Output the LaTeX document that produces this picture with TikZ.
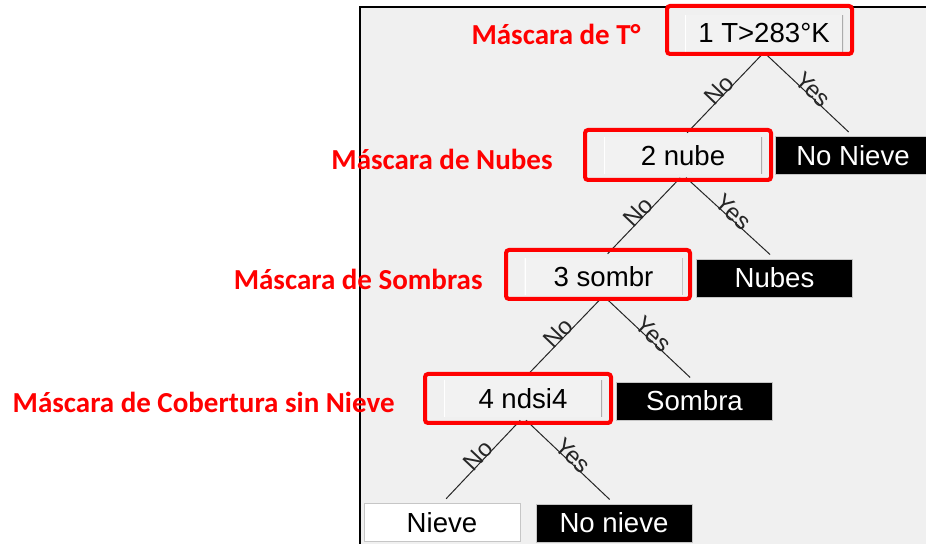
\documentclass[tikz,border=0pt]{standalone}
\usepackage{fontspec}
\newfontfamily\treefont{Liberation Sans}
\newfontfamily\maskfont{Carlito}
\usetikzlibrary{calc}
\definecolor{panelgray}{HTML}{F0F0F0}
\definecolor{btngray}{HTML}{F2F2F2}
\definecolor{maskred}{HTML}{FF0000}

\begin{document}
\begin{tikzpicture}[x=0.5pt, y=-0.5pt,
  testbox/.style={rectangle, fill=btngray, minimum width=79pt, minimum height=18.5pt,
    inner sep=0pt, font=\treefont\fontsize{13.8}{15}\selectfont,
    path picture={
      \draw[gray!65, line width=1pt] (path picture bounding box.north east) -- (path picture bounding box.south east);
      \draw[white, line width=1pt] (path picture bounding box.north west) -- (path picture bounding box.south west);}},
  leafbox/.style={rectangle, fill=black, text=white, draw=gray!45, minimum width=78pt,
    minimum height=19pt, inner sep=0pt, font=\treefont\fontsize{13.8}{15}\selectfont},
  snowbox/.style={leafbox, fill=white, text=black},
  branch/.style={black!85, line width=0.5pt, shorten <=2pt, shorten >=3pt},
  anslab/.style={sloped, above, inner sep=0pt, yshift=-1.2pt,
    font=\treefont\fontsize{12}{13}\selectfont},
  maskframe/.style={draw=maskred, line width=2pt, rounded corners=1.5pt},
  masklab/.style={text=maskred, anchor=base east, inner sep=0pt,
    font=\maskfont\bfseries\fontsize{14.5}{17}\selectfont},
]
\useasboundingbox (0,0) rectangle (926,544);

% panel
\fill[panelgray] (360,7.5) rectangle (950,560);
\draw[line width=1pt] (360,560) -- (360,7.5) -- (950,7.5);

% decision nodes
\node[testbox] (n1) at (764,33.5) {1 T>283°K};
\node[testbox] (n2) at (683,156) {2 nube};
\node[testbox] (n3) at (603.5,277) {3 sombr};
\node[testbox] (n4) at (523,398.5) {4 ndsi4};

% leaves
\node[leafbox] (nonieve) at (853,155.5) {No Nieve};
\node[leafbox] (nubes) at (774.5,278) {Nubes};
\node[leafbox] (sombra) at (694.5,401) {Sombra};
\node[snowbox] (nieve) at (442,522.5) {Nieve};
\node[leafbox] (nonieve4) at (614,523) {No nieve};

% branches
\draw[branch] (n1.south) -- node[anslab] {No} (n2.north);
\draw[branch] (n1.south) -- node[anslab] {Yes} (nonieve.north);
\draw[branch] (n2.south) -- node[anslab] {No} (n3.north);
\draw[branch] (n2.south) -- node[anslab] {Yes} (nubes.north);
\draw[branch] (n3.south) -- node[anslab] {No} (n4.north);
\draw[branch] (n3.south) -- node[anslab] {Yes} (sombra.north);
\draw[branch] (n4.south) -- node[anslab] {No} (nieve.north);
\draw[branch] (n4.south) -- node[anslab] {Yes} (nonieve4.north);

% red masks
\draw[maskframe] (667,6) rectangle (852,54);
\draw[maskframe] (585,130) rectangle (771,180);
\draw[maskframe] (506,250) rectangle (690,299);
\draw[maskframe] (425,374) rectangle (611,423);

\node[masklab] (lab1) at (641,45) {Máscara de T°};
\node[masklab] (lab2) at (553,170) {Máscara de Nubes};
\node[masklab] (lab3) at (483,290) {Máscara de Sombras};
\node[masklab] (lab4) at (395,413) {Máscara de Cobertura sin Nieve};
\end{tikzpicture}
\end{document}
